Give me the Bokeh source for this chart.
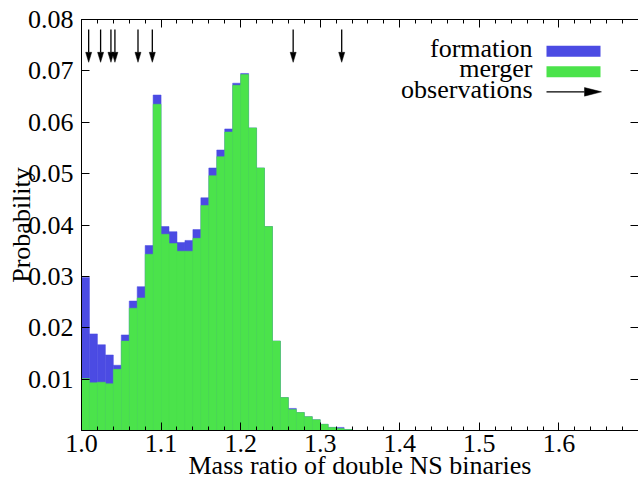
from bokeh.plotting import figure
from bokeh.models import Range1d, LinearAxis, FixedTicker, PrintfTickFormatter
from bokeh.core.properties import value
from bokeh.embed import file_html
from bokeh.resources import INLINE

# Histogram of the double-NS mass ratio q, bins of width 0.01 starting at q = 1.0
bin_start = 1.0
bin_width = 0.01
formation = [0.0298, 0.0188, 0.0167, 0.0147, 0.0127, 0.0186, 0.0252, 0.0280, 0.0360,
             0.0653, 0.0397, 0.0387, 0.0366, 0.0370, 0.0391, 0.0453, 0.0511, 0.0546,
             0.0587, 0.0676, 0.0695, 0.0589, 0.0511, 0.0397, 0.0174, 0.0064, 0.0043,
             0.0035, 0.0027, 0.0021, 0.0012, 0.0006, 0.0006, 0.0002]
merger = [0.0101, 0.0093, 0.0094, 0.0091, 0.0119, 0.0174, 0.0238, 0.0258, 0.0343,
          0.0635, 0.0382, 0.0364, 0.0349, 0.0349, 0.0374, 0.0438, 0.0496, 0.0533,
          0.0581, 0.0672, 0.0693, 0.0589, 0.0511, 0.0397, 0.0174, 0.0064, 0.0041,
          0.0035, 0.0027, 0.0021, 0.0012, 0.0006, 0.0004, 0.0002]

# Observed mass ratios of double neutron star systems
observed_q = [1.009, 1.024, 1.037, 1.042, 1.071, 1.089, 1.266, 1.327]

x_ticks = [1.0, 1.1, 1.2, 1.3, 1.4, 1.5, 1.6]
x_minor = [round(1.0 + 0.02 * i, 2) for i in range(36)]
y_ticks = [0.01, 0.02, 0.03, 0.04, 0.05, 0.06, 0.07, 0.08]

key_labels = ["formation", "merger", "observations"]

BLUE = "#4b4be3"
GREEN = "#4be34b"
FONT = "Liberation Serif"
FS = "26px"

W, H = 638, 482
LEFT, RIGHT, TOP, BOTTOM = 81, 0, 19, 50
X0, X1 = 1.0, 1.7
Y0, Y1 = 0.0, 0.08
px_x = (W - LEFT - RIGHT) / (X1 - X0)   # pixels per unit of q
px_y = (H - TOP - BOTTOM) / (Y1 - Y0)   # pixels per unit of probability


def sx(px):
    """Horizontal pixel offset from the frame's left edge -> q."""
    return X0 + px / px_x


def sy(py):
    """Vertical pixel offset from the frame's top edge -> probability."""
    return Y1 - py / px_y


p = figure(width=W, height=H, x_range=Range1d(X0, X1), y_range=Range1d(Y0, Y1),
           output_backend="svg", toolbar_location=None,
           x_axis_location=None, y_axis_location=None,
           min_border_left=LEFT, min_border_right=RIGHT,
           min_border_top=TOP, min_border_bottom=BOTTOM)
p.xgrid.visible = False
p.ygrid.visible = False
p.outline_line_color = None
p.background_fill_color = "white"
p.border_fill_color = "white"


# --- axes -------------------------------------------------------------------
def style_axis(ax, labels=True):
    ax.axis_line_color = "black"
    ax.axis_line_width = 1
    ax.major_tick_in = 8
    ax.major_tick_out = 0
    ax.minor_tick_in = 4
    ax.minor_tick_out = 0
    ax.major_tick_line_color = "black"
    ax.minor_tick_line_color = "black"
    ax.major_label_text_font = FONT
    if labels:
        ax.major_label_text_color = "black"
        ax.major_label_text_font_size = FS
    else:
        ax.major_label_text_color = None
        ax.major_label_text_font_size = "1px"
        ax.major_label_standoff = 0
    ax.axis_label_text_font = FONT
    ax.axis_label_text_font_size = FS
    ax.axis_label_text_font_style = "normal"
    ax.axis_label_text_color = "black"


xb = LinearAxis(ticker=FixedTicker(ticks=x_ticks, minor_ticks=x_minor),
                formatter=PrintfTickFormatter(format="%.1f"),
                axis_label="Mass ratio of double NS binaries")
style_axis(xb)
xb.major_label_standoff = 4
xb.axis_label_standoff = -4
p.add_layout(xb, "below")

xt = LinearAxis(ticker=FixedTicker(ticks=x_ticks, minor_ticks=x_minor))
style_axis(xt, labels=False)
p.add_layout(xt, "above")

yl = LinearAxis(ticker=FixedTicker(ticks=y_ticks),
                formatter=PrintfTickFormatter(format="%.2f"),
                axis_label="Probability")
style_axis(yl)
yl.minor_tick_line_color = None
yl.major_label_standoff = 8
yl.axis_label_standoff = -11
p.add_layout(yl, "left")

yr = LinearAxis(ticker=FixedTicker(ticks=y_ticks))
style_axis(yr, labels=False)
yr.minor_tick_line_color = None
yr.axis_line_color = None
p.add_layout(yr, "right")

# --- histograms ---------------------------------------------------------------
lefts = [bin_start + i * bin_width for i in range(len(formation))]
rights = [l + bin_width for l in lefts]
p.quad(left=lefts, right=rights, bottom=0, top=formation,
       fill_color=BLUE, line_color=BLUE, line_width=0.5)
p.quad(left=lefts, right=rights, bottom=0, top=merger,
       fill_color=GREEN, line_color=GREEN, line_width=0.5)

# --- observation arrows along the top ------------------------------------------
arrow_top = sy(10)
arrow_tip = sy(43)
head_len = 10 / px_y
head_half = 3 / px_x
p.segment(x0=observed_q, y0=[arrow_top] * len(observed_q),
          x1=observed_q, y1=[arrow_tip + head_len] * len(observed_q),
          line_color="black", line_width=1.3)
p.patches(xs=[[q - head_half, q + head_half, q] for q in observed_q],
          ys=[[arrow_tip + head_len, arrow_tip + head_len, arrow_tip] for _ in observed_q],
          fill_color="black", line_color="black", line_width=0.5)

# --- key ---------------------------------------------------------------------
text_right = sx(451)
key_x0, key_x1 = sx(465), sx(519)
p.text(x=[text_right] * 3, y=[sy(29.5), sy(49.5), sy(70.5)], text=key_labels,
       text_align="right", text_baseline="alphabetic",
       text_font=value(FONT), text_font_size=FS, text_color="black")

p.quad(left=[key_x0], right=[key_x1], top=[sy(26.5)], bottom=[sy(37.5)],
       fill_color=BLUE, line_color=None)
p.quad(left=[key_x0], right=[key_x1], top=[sy(47)], bottom=[sy(58)],
       fill_color=GREEN, line_color=None)
key_y = sy(72.7)
kh_len = 16 / px_x
kh_half = 4.3 / px_y
p.segment(x0=[key_x0], y0=[key_y], x1=[key_x1 - kh_len], y1=[key_y],
          line_color="black", line_width=1.3)
p.patch(x=[key_x1 - kh_len, key_x1 - kh_len, key_x1 + 1 / px_x],
        y=[key_y + kh_half, key_y - kh_half, key_y],
        fill_color="black", line_color="black", line_width=0.5)

open("out.html", "w").write(file_html(p, INLINE))
